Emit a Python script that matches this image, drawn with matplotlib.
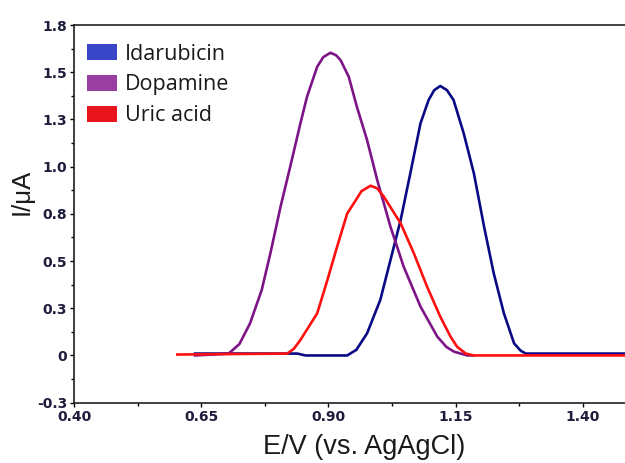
import matplotlib
matplotlib.use("Agg")
import matplotlib.pyplot as plt
from matplotlib.patches import Patch
from matplotlib.ticker import AutoMinorLocator

# Idarubicin (blue)
ida_x = [0.638, 0.839, 0.855, 0.937, 0.955, 0.976, 1.002, 1.022, 1.042, 1.061,
         1.081, 1.097, 1.108, 1.120, 1.133, 1.146, 1.166, 1.186, 1.206, 1.225,
         1.245, 1.265, 1.278, 1.288, 1.483]
ida_y = [0.01, 0.01, 0.0, 0.0, 0.03, 0.117, 0.294, 0.505, 0.717, 0.964,
         1.229, 1.353, 1.405, 1.427, 1.405, 1.353, 1.176, 0.964, 0.682, 0.435,
         0.223, 0.064, 0.025, 0.01, 0.01]

# Dopamine (purple)
dop_x = [0.638, 0.704, 0.725, 0.746, 0.769, 0.786, 0.806, 0.825, 0.845, 0.858,
         0.878, 0.890, 0.904, 0.915, 0.924, 0.940, 0.956, 0.976, 0.996, 1.022,
         1.048, 1.081, 1.114, 1.132, 1.147, 1.173, 1.185]
dop_y = [0.0, 0.01, 0.06, 0.17, 0.347, 0.541, 0.788, 1.0, 1.229, 1.37,
         1.529, 1.58, 1.603, 1.59, 1.564, 1.476, 1.317, 1.141, 0.929, 0.682,
         0.47, 0.259, 0.1, 0.045, 0.02, 0.0, 0.0]

# Uric acid (red)
uric_x = [0.603, 0.819, 0.832, 0.845, 0.878, 0.898, 0.917, 0.937, 0.950, 0.965,
          0.983, 0.996, 1.009, 1.042, 1.068, 1.094, 1.120, 1.140, 1.153, 1.170,
          1.186, 1.483]
uric_y = [0.005, 0.01, 0.035, 0.082, 0.223, 0.399, 0.575, 0.752, 0.806, 0.87,
          0.899, 0.885, 0.841, 0.70, 0.541, 0.364, 0.205, 0.10, 0.046, 0.01,
          0.0, 0.0]

x_ticks = [0.40, 0.65, 0.90, 1.15, 1.40]
x_ticklabels = ['0.40', '0.65', '0.90', '1.15', '1.40']
y_ticks = [1.75, 1.5, 1.25, 1.0, 0.75, 0.5, 0.25, 0.0, -0.25]
y_ticklabels = ['1.8', '1.5', '1.3', '1.0', '0.8', '0.5', '0.3', '0', '-0.3']

series_names = ['Idarubicin', 'Dopamine', 'Uric acid']
line_colors = ['#0a0a86', '#7d1488', '#ff1010']
patch_colors = ['#3a46c8', '#9a3ea2', '#e8141e']

fig = plt.figure(figsize=(6.25, 4.63), dpi=100)
ax = fig.add_axes([0.1184, 0.1303, 0.8816, 0.8157])

ax.plot(ida_x, ida_y, color=line_colors[0], lw=1.9)
ax.plot(dop_x, dop_y, color=line_colors[1], lw=1.9)
ax.plot(uric_x, uric_y, color=line_colors[2], lw=1.9)

ax.set_xlim(0.40, 1.483)
ax.set_ylim(-0.25, 1.75)
ax.set_xticks(x_ticks)
ax.set_xticklabels(x_ticklabels)
ax.set_yticks(y_ticks)
ax.set_yticklabels(y_ticklabels)
ax.xaxis.set_minor_locator(AutoMinorLocator(2))
ax.yaxis.set_minor_locator(AutoMinorLocator(2))

ax.tick_params(which='major', direction='out', length=3, width=1, pad=2,
               labelsize=10, labelcolor='#1e1e3c')
ax.tick_params(which='minor', direction='out', length=2, width=1)
for lab in ax.get_xticklabels() + ax.get_yticklabels():
    lab.set_fontweight('bold')

ax.spines['right'].set_visible(False)
for s in ['left', 'bottom', 'top']:
    ax.spines[s].set_linewidth(1.2)
    ax.spines[s].set_color('#202020')

ax.set_xlabel('E/V (vs. AgAgCl)', fontsize=19.5, family='Liberation Sans',
              color='#1a1a1a')
ax.xaxis.set_label_coords(0.526, -0.082)
ax.set_ylabel('I/μA', fontsize=18.5, family='Liberation Sans',
              color='#1a1a1a')
ax.yaxis.set_label_coords(-0.073, 0.559)

handles = [Patch(facecolor=c, edgecolor='none') for c in patch_colors]
leg = ax.legend(handles, series_names, loc='upper left',
                bbox_to_anchor=(0.024, 0.951), frameon=False,
                prop={'family': 'Open Sans', 'size': 15.5},
                handlelength=1.4, handleheight=0.8, handletextpad=0.35,
                labelspacing=0.46, borderaxespad=0, borderpad=0)
for t in leg.get_texts():
    t.set_color('#1a1a1a')

fig.savefig('out.png', dpi=100)
